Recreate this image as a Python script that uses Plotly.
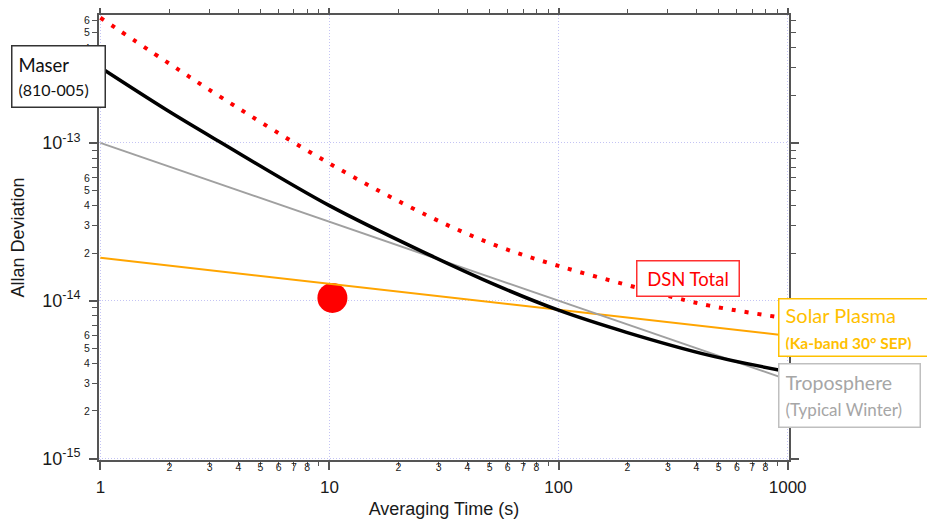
import plotly.graph_objects as go

# ---------------- data ----------------
tau_maser = [1, 1.94, 3.3, 10, 27.3, 53.6, 100, 198, 456, 1000]
adev_maser = [3.0e-13, 1.62e-13, 1.02e-13, 4.0e-14, 1.95e-14, 1.25e-14, 8.7e-15, 6.3e-15, 4.5e-15, 3.55e-15]

tau_dsn = [1, 1.94, 3.41, 10, 27.3, 53.6, 100, 198, 327, 456, 1000]
adev_dsn = [6.2e-13, 3.27e-13, 1.92e-13, 7.4e-14, 3.41e-14, 2.23e-14, 1.66e-14, 1.26e-14, 1.04e-14, 9.3e-15, 7.7e-15]

tau_lines = [1, 10, 100, 1000]
adev_tropo = [1.0e-13, 3.16e-14, 1.0e-14, 3.16e-15]
adev_solar = [1.87e-14, 1.28e-14, 8.8e-15, 6.0e-15]

point_tau = [10.3]
point_adev = [1.04e-14]

x_major = [1, 10, 100, 1000]
x_major_text = ["1", "10", "100", "1000"]
x_minor = [m * d for d in (1, 10, 100) for m in range(2, 10)]
x_minor_text = [str(m) if m < 9 else "" for d in (1, 10, 100) for m in range(2, 10)]

y_major = [1e-15, 1e-14, 1e-13]
y_major_text = ["10<sup>-15</sup>", "10<sup>-14</sup>", "10<sup>-13</sup>"]
y_minor = [m * 10.0 ** e for e in (-15, -14, -13) for m in range(2, 10) if m * 10.0 ** e < 6.4e-13]
y_minor_text = [str(m) if m <= 6 else "" for e in (-15, -14, -13) for m in range(2, 10) if m * 10.0 ** e < 6.4e-13]

# ---------------- figure ----------------
AX = "#555555"
GRID = "#C4C4F4"
XR = [-0.006, 3.006]
YR = [-15.0095, -12.19]
LBL_FONT = "Lato, Noto Sans, sans-serif"

fig = go.Figure()

fig.add_trace(go.Scatter(x=point_tau, y=point_adev, mode="markers",
                         marker=dict(size=30, color="#FF0000"), hoverinfo="skip"))
fig.add_trace(go.Scatter(x=tau_lines, y=adev_solar, mode="lines",
                         line=dict(color="#FFA500", width=2), hoverinfo="skip"))
fig.add_trace(go.Scatter(x=tau_lines, y=adev_tropo, mode="lines",
                         line=dict(color="#A0A0A0", width=2), hoverinfo="skip"))
fig.add_trace(go.Scatter(x=tau_maser, y=adev_maser, mode="lines",
                         line=dict(color="#000000", width=3.5, shape="spline", smoothing=1.0),
                         hoverinfo="skip"))
fig.add_trace(go.Scatter(x=tau_dsn, y=adev_dsn, mode="lines",
                         line=dict(color="#FF0000", width=4, dash="4px,9px",
                                   shape="spline", smoothing=1.0),
                         hoverinfo="skip"))
# invisible anchors so the overlay axes (decade ticks) are drawn
fig.add_trace(go.Scatter(x=tau_lines[:1], y=adev_tropo[:1], xaxis="x2", yaxis="y",
                         mode="markers", marker=dict(opacity=0), hoverinfo="skip"))
fig.add_trace(go.Scatter(x=tau_lines[:1], y=adev_tropo[:1], xaxis="x", yaxis="y2",
                         mode="markers", marker=dict(opacity=0), hoverinfo="skip"))

fig.update_layout(
    width=927, height=511,
    margin=dict(l=91, r=146, t=7, b=59, autoexpand=False),
    plot_bgcolor="white", paper_bgcolor="white",
    showlegend=False,
    font=dict(family="Liberation Sans, Arial, sans-serif", color="#1a1a1a"),
    xaxis=dict(type="log", range=XR, tickmode="array", tickvals=x_minor, ticktext=x_minor_text,
               ticks="outside", ticklen=4, tickwidth=1.3, tickcolor=AX,
               tickfont=dict(size=10.5), ticklabelstandoff=-8, automargin=False,
               showline=True, linecolor=AX, linewidth=2, mirror="ticks",
               showgrid=False, zeroline=False),
    xaxis2=dict(type="log", range=XR, overlaying="x", anchor="y", side="bottom",
                tickmode="array", tickvals=x_major, ticktext=x_major_text,
                ticks="outside", ticklen=9, tickwidth=1.5, tickcolor=AX,
                tickfont=dict(size=17), ticklabelstandoff=3, automargin=False,
                showline=False, mirror="ticks",
                showgrid=True, gridcolor=GRID, griddash="1px,2px", gridwidth=1,
                zeroline=False,
                title=dict(text="Averaging Time (s)", font=dict(size=18), standoff=5)),
    yaxis=dict(type="log", range=YR, tickmode="array", tickvals=y_minor, ticktext=y_minor_text,
               ticks="outside", ticklen=5, tickwidth=1.3, tickcolor=AX,
               tickfont=dict(size=10.5), ticklabelstandoff=0, automargin=False,
               showline=True, linecolor=AX, linewidth=2, mirror="ticks",
               showgrid=False, zeroline=False),
    yaxis2=dict(type="log", range=YR, overlaying="y", anchor="x", side="left",
                tickmode="array", tickvals=y_major, ticktext=y_major_text,
                ticks="outside", ticklen=9, tickwidth=1.5, tickcolor=AX,
                tickfont=dict(size=18), ticklabelstandoff=5, automargin=False,
                showline=False, mirror="ticks",
                showgrid=True, gridcolor=GRID, griddash="1px,2px", gridwidth=1,
                zeroline=False,
                title=dict(text="Allan Deviation", font=dict(size=18), standoff=14)),
)

def box(text, x, y, w, h, color, border, size):
    fig.add_annotation(text=text, xref="paper", yref="paper", x=x, y=y,
                       xanchor="left", yanchor="top", showarrow=False,
                       align="left", valign="middle", width=w, height=h,
                       bgcolor="white", bordercolor=border, borderwidth=1.5, borderpad=6,
                       font=dict(family=LBL_FONT, size=size, color=color))

box("Maser<br><span style='font-size:16px'>(810-005)</span>",
    -0.1274, 0.9326, 80, 48, "#111111", "#333333", 18.5)
fig.add_annotation(text="DSN Total", xref="paper", yref="paper", x=0.7786, y=0.4494,
                   xanchor="left", yanchor="top", showarrow=False, align="center",
                   width=95, height=28, bgcolor="white", bordercolor="#FF3030",
                   borderwidth=1.5, borderpad=3,
                   font=dict(family=LBL_FONT, size=18.5, color="#FF0000"))
box("Solar Plasma<br><b><span style='font-size:15.5px'>(Ka-band 30° SEP)</span></b>",
    0.9841, 0.3640, 141, 44, "#FFC000", "#FFC000", 20)
box("Troposphere<br><span style='font-size:17px'>(Typical Winter)</span>",
    0.9841, 0.2180, 128, 50, "#A6A6A6", "#BFBFBF", 19.5)

fig.write_html("out.html")
